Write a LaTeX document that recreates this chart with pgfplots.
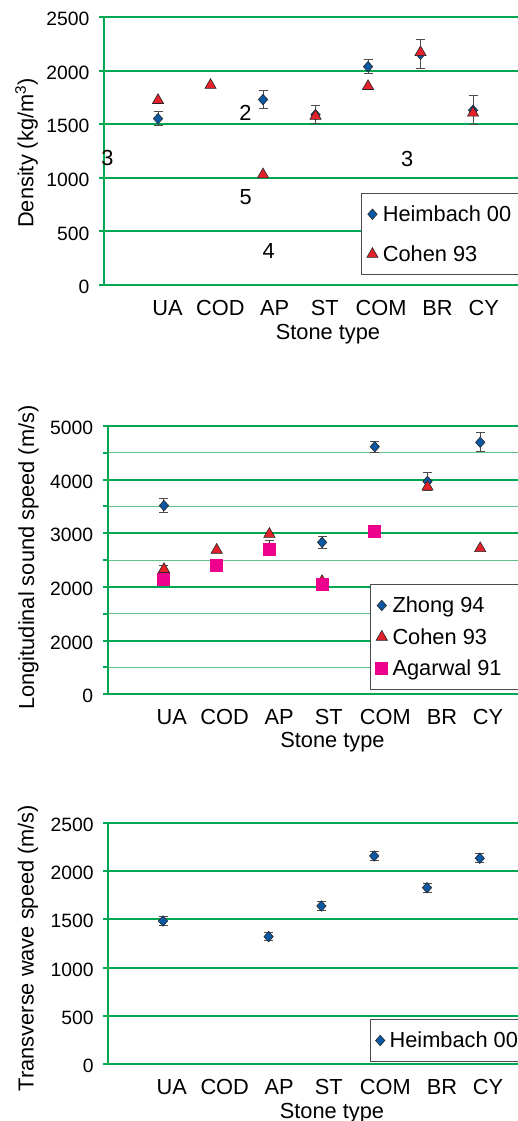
\documentclass[border=0pt]{standalone}
\usepackage{pgfplots}
\pgfplotsset{compat=1.18}
\usepackage{fontspec}
\setmainfont{Liberation Sans}
\definecolor{grn}{HTML}{00A651}
\definecolor{lgrn}{HTML}{66C08A}
\definecolor{dblue}{HTML}{0B58A5}
\definecolor{tred}{HTML}{E4202A}
\definecolor{mag}{HTML}{EC008C}
\newcommand{\fs}{\fontsize{21.8pt}{26pt}\selectfont}
\newcommand{\fst}{\fontsize{19.3pt}{23pt}\selectfont}
\pgfplotsset{
  panel/.style={
    scale only axis, clip=false, enlargelimits=false,
    axis line style={draw=grn, line width=2pt},
    ymajorgrids, major grid style={draw=grn, line width=2pt},
    tick align=outside, major tick length=5pt, minor tick length=5pt,
    ytick style={draw=grn, line width=2pt},
    xtick style={draw=none},
    xticklabels={UA,COD,AP,ST,COM,BR,CY},
    xticklabel style={font=\fs, anchor=base, inner sep=0pt, yshift=-25pt},
    yticklabel style={font=\fst, anchor=east, inner sep=0pt, xshift=-9.5pt, yshift=-2pt},
    /pgf/number format/assume math mode=true,
    legend cell align=left,
    legend image code/.code={\draw[mark repeat=2, mark phase=2, ##1] plot coordinates {(0pt,0pt) (6pt,0pt) (12pt,0pt)};},
    legend style={draw=black!70, line width=1pt, fill=white, font=\fs, anchor=north west,
      inner xsep=5.3pt, inner ysep=9.7pt, column sep=4.7pt,
      nodes={inner sep=0pt, text height=18pt, text depth=4pt}},
  },
  hb/.style={only marks, mark=diamond*, mark size=5.2pt,
    mark options={xscale=1.2, fill=dblue, draw=black!85, line width=0.6pt},
    /pgfplots/error bars/y dir=both, /pgfplots/error bars/y explicit,
    /pgfplots/error bars/error mark options={rotate=90, mark size=4.5pt, line width=1pt, draw=black!70},
    /pgfplots/error bars/error bar style={line width=1pt, draw=black!70}},
  ch/.style={only marks, mark=triangle*, mark size=6.5pt,
    mark options={fill=tred, draw=black!85, line width=0.6pt}},
  chE/.style={ch,
    /pgfplots/error bars/y dir=both, /pgfplots/error bars/y explicit,
    /pgfplots/error bars/error mark options={rotate=90, mark size=4.5pt, line width=1pt, draw=black!70},
    /pgfplots/error bars/error bar style={line width=1pt, draw=black!70}},
  ag/.style={only marks, mark=square*, mark size=6pt,
    mark options={fill=mag, draw=mag, line width=0pt}},
}
\begin{document}
\begin{tikzpicture}
\useasboundingbox (0,0) rectangle (518pt,-1121pt);
% ---------- Panel 1: density
\begin{axis}[panel, name=p1, at={(104pt,-285pt)}, anchor=south west,
  width=448pt, height=268pt,
  xmin=-0.029, xmax=8.504, ymin=0, ymax=2500,
  xtick={1.181,2.186,3.222,4.175,5.247,6.323,7.205},
  ytick={0,500,1000,1500,2000,2500}, yticklabels={0,500,1000,1500,2000,2500},
  legend style={at={(0.5737,0.3433)}, row sep=18pt}]
\addplot[hb] coordinates {(1,1552) +- (0,65) (3,1730) +- (0,82) (4,1589) +- (0,81)
  (5,2037) +- (0,62) (6,2153) +- (0,138) (7,1630) +- (0,136)};
\addlegendentry{Heimbach 00\hspace*{15pt}}
\addplot[ch] coordinates {(1,1723) (2,1864) (3,1030) (4,1576) (5,1854) (6,2170) (7,1605)};
\addlegendentry{Cohen 93}
\end{axis}
% ---------- Panel 2: longitudinal speed
\begin{axis}[panel, name=p2, at={(107.7pt,-694.3pt)}, anchor=south west,
  width=448.6pt, height=268.3pt,
  xmin=-0.068, xmax=8.444, ymin=0, ymax=5000,
  xtick={1.146,2.152,3.186,4.126,5.199,6.275,7.148},
  ytick={0,1000,2000,3000,4000,5000}, yticklabels={0,2000,2000,3000,4000,5000},
  minor ytick={500,1500,2500,3500,4500}, yminorgrids,
  minor grid style={draw=lgrn, line width=1.3pt},
  minor tick style={draw=lgrn, line width=1.3pt},
  legend style={at={(0.5847,0.41)}, row sep=9.5pt}]
\addplot[hb] coordinates {(1,3517) +- (0,128) (3,2733) +- (0,133) (4,2832) +- (0,108)
  (5,4614) +- (0,106) (6,3968) +- (0,168) (7,4696) +- (0,174)};
\addlegendentry{Zhong 94}
\addplot[chE, forget plot] coordinates {(1,2330) +- (0,70) (5,3000) +- (0,70)};
\addplot[ch] coordinates {(2,2689) (3,2986) (4,2107) (6,3865) (7,2719)};
\addlegendentry{Cohen 93}
\addplot[ag] coordinates {(1,2148) (2,2398) (3,2696) (4,2043) (5,3038)};
\addlegendentry{Agarwal 91\hspace*{25pt}}
\end{axis}
% ---------- Panel 3: transverse speed
\begin{axis}[panel, name=p3, at={(108.3pt,-1064.3pt)}, anchor=south west,
  width=447.4pt, height=241.6pt,
  xmin=-0.036, xmax=8.4375, ymin=0, ymax=2500,
  xtick={1.165,2.169,3.201,4.138,5.21,6.284,7.155},
  ytick={0,500,1000,1500,2000,2500}, yticklabels={0,500,1000,1500,2000,2500},
  legend style={at={(0.5843,0.1863)}}]
\addplot[hb] coordinates {(1,1483) +- (0,45) (3,1321) +- (0,40) (4,1638) +- (0,47)
  (5,2156) +- (0,46) (6,1828) +- (0,46) (7,2132) +- (0,46)};
\addlegendentry{Heimbach 00\hspace*{25pt}}
\end{axis}
% ---------- labels
\node[font=\fs, anchor=base] at (328pt,-339pt) {Stone type};
\node[font=\fs, anchor=base] at (332.5pt,-747.7pt) {Stone type};
\node[font=\fs, anchor=base] at (332pt,-1118pt) {Stone type};
\node[font=\fs, rotate=90, anchor=base] at (33.3pt,-153pt) {Density (kg/m\textsuperscript{3})};
\node[font=\fs, rotate=90, anchor=base] at (34pt,-557.5pt) {Longitudinal sound speed (m/s)};
\node[font=\fs, rotate=90, anchor=base] at (33.7pt,-948pt) {Transverse wave speed (m/s)};
% stray numerals in the density panel
\node[font=\fs, inner sep=0pt] at (107.5pt,-158.3pt) {3};
\node[font=\fs, inner sep=0pt] at (245.5pt,-112.8pt) {2};
\node[font=\fs, inner sep=0pt] at (245.7pt,-197.2pt) {5};
\node[font=\fs, inner sep=0pt] at (268.8pt,-251.3pt) {4};
\node[font=\fs, inner sep=0pt] at (407.2pt,-158.7pt) {3};
\end{tikzpicture}
\end{document}
